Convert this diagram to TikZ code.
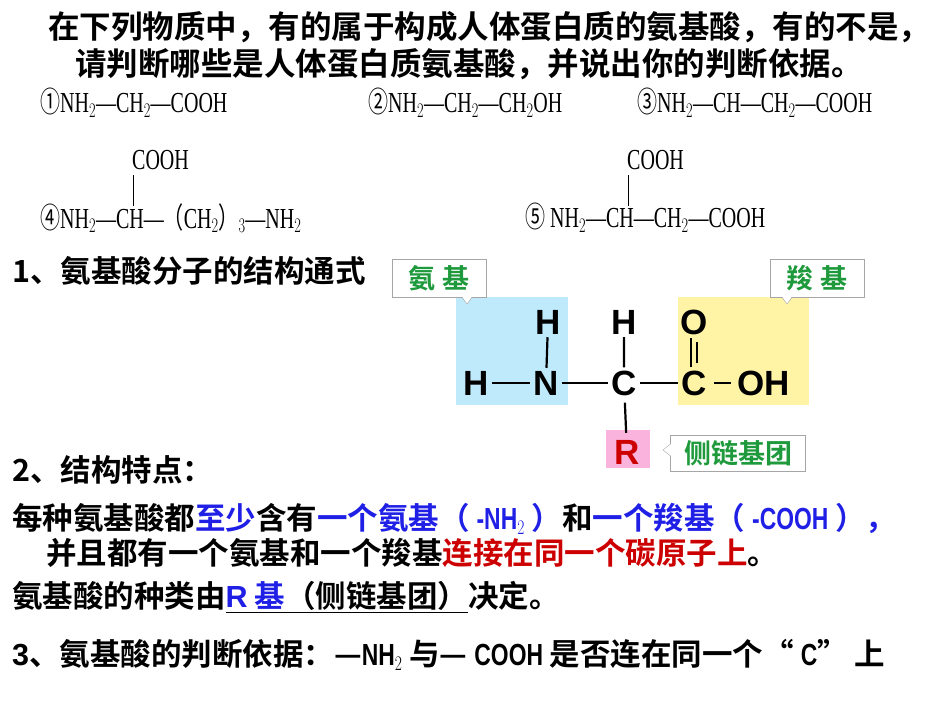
\documentclass[tikz,border=0pt]{standalone}
\usepackage{fontspec}
\setmainfont{Liberation Serif}
\newfontfamily\cjk{Noto Sans CJK SC}
\newfontfamily\cjkb{Noto Sans CJK SC Bold}
\newfontfamily\lsans{Liberation Sans}
\newcommand{\fs}[1]{\fontsize{#1}{#1}\selectfont}
\newcommand{\cnd}[1]{\scalebox{0.75}[1]{#1}}
\newcommand{\cnf}[1]{\scalebox{0.69}[1]{#1}}
\newcommand{\cj}[1]{{\cjk #1}}
\definecolor{bl}{HTML}{1F1FE6}
\definecolor{rd}{HTML}{CC0000}
\definecolor{gr}{HTML}{1E9A3C}
\begin{document}
\begin{tikzpicture}[x=1pt,y=-1pt,
  tx/.style={anchor=west,inner sep=0pt},
  ttl/.style={tx,font=\cjkb\fs{31.5}},
  hd/.style={tx,font=\cjkb\fs{30.5}},
  fm/.style={tx,font=\fs{29}},
  atom/.style={font=\lsans\bfseries\fs{35},inner sep=3pt},
  lab/.style={draw=gray!70,fill=white,font=\cjkb\fs{27},text=gr,inner sep=5pt,minimum height=38pt},
  bond/.style={line width=2.2pt,shorten <=4pt,shorten >=4pt}]
\useasboundingbox (0,0) rectangle (950,713);
\node[ttl] (t1) at (48,27) {在下列物质中，有的属于构成人体蛋白质的氨基酸，有的不是，};
\node[ttl] (t2) at (75,64) {请判断哪些是人体蛋白质氨基酸，并说出你的判断依据。};
% formulas
\node[fm] (f1) at (40,103) {\cnf{\cj{①}NH$_2$—CH$_2$—COOH}};
\node[fm] (f2) at (368,103) {\cnf{\cj{②}NH$_2$—CH$_2$—CH$_2$OH}};
\node[fm] (f3) at (637,103) {\cnf{\cj{③}NH$_2$—CH—CH$_2$—COOH}};
\node[fm] (f4c) at (132,160) {\cnf{COOH}};
\node[fm] (f4) at (40,218) {\cnf{\cj{④}NH$_2$—CH—\cj{（}CH$_2$\cj{）}$_3$—NH$_2$}};
\node[fm] (f5c) at (627,160) {\cnf{COOH}};
\node[fm] (f5) at (525,218) {\cnf{\cj{⑤} NH$_2$—CH—CH$_2$—COOH}};
\coordinate (a4) at (133,175); \coordinate (b4) at (133,206);
\coordinate (a5) at (628,175); \coordinate (b5) at (628,206);
\draw[line width=0.8pt] (a4)--(b4) (a5)--(b5);
% headings
\node[hd] (h1) at (12,271) {1、氨基酸分子的结构通式};
\node[hd] (h2) at (12,470) {2、结构特点：};
% structure
\fill[cyan!25] (456,297) rectangle (568,405);
\fill[orange!25!yellow!35] (678,297) rectangle (809,405);
\fill[magenta!30] (606,430) rectangle (650,468);
\node[atom] (H1) at (548,322) {H};
\node[atom] (H2) at (624,322) {H};
\node[atom] (O) at (694,322) {O};
\node[atom] (H0) at (476,383) {H};
\node[atom] (N) at (546,383) {N};
\node[atom] (C1) at (624,383) {C};
\node[atom] (C2) at (694,383) {C};
\node[atom] (OH) at (764,383) {OH};
\node[atom,text=rd] (R) at (627,452) {R};
\draw[bond] (H0)--(N) (N)--(C1) (C1)--(C2) (C2)--(OH);
\draw[bond] (H1)--(N) (H2)--(C1) (C1)--(R);
\draw[bond] ([xshift=-3pt]C2.north)--([xshift=-3pt]O.south) ([xshift=3pt]C2.north)--([xshift=3pt]O.south);
\node[lab,minimum width=94pt] (L1) at (439,278) {氨 基};
\node[lab,minimum width=94pt] (L2) at (817,278) {羧 基};
\node[lab,minimum height=35pt,minimum width=135pt] (L3) at (738,453) {侧链基团};
\fill[white] (462,296.5)--(467,304)--(472,296.5)--cycle;
\draw[gray!70] (462,297.5)--(467,304)--(472,297.5);
\fill[white] (782,296.5)--(787,304)--(792,296.5)--cycle;
\draw[gray!70] (782,297.5)--(787,304)--(792,297.5);
\fill[white] (671,444)--(663,450)--(671,456)--cycle;
\draw[gray!70] (670.5,444)--(663,450)--(670.5,456);
% paragraphs
\node[hd] (p1) at (12,519) {每种氨基酸都\textcolor{bl}{至少}含有\textcolor{bl}{一个氨基（ {\lsans\bfseries\cnd{-NH$_2$}} ）}和\textcolor{bl}{一个羧基（ {\lsans\bfseries\cnd{-COOH}} ），}};
\node[hd] (p2) at (46,553) {并且都有一个氨基和一个羧基\textcolor{rd}{连接在同一个碳原子上}。};
\node[hd] (p3) at (12,597) {氨基酸的种类由\underline{\textcolor{bl}{{\lsans\bfseries R} 基}（侧链基团）}决定。};
\node[hd] (p4) at (12,655) {{\lsans\bfseries 3}、氨基酸的判断依据：—{\lsans\bfseries\cnd{NH$_2$}} 与— {\lsans\bfseries\cnd{COOH}} 是否连在同一个“ {\lsans\bfseries\cnd{C}}” 上};
\end{tikzpicture}
\end{document}
